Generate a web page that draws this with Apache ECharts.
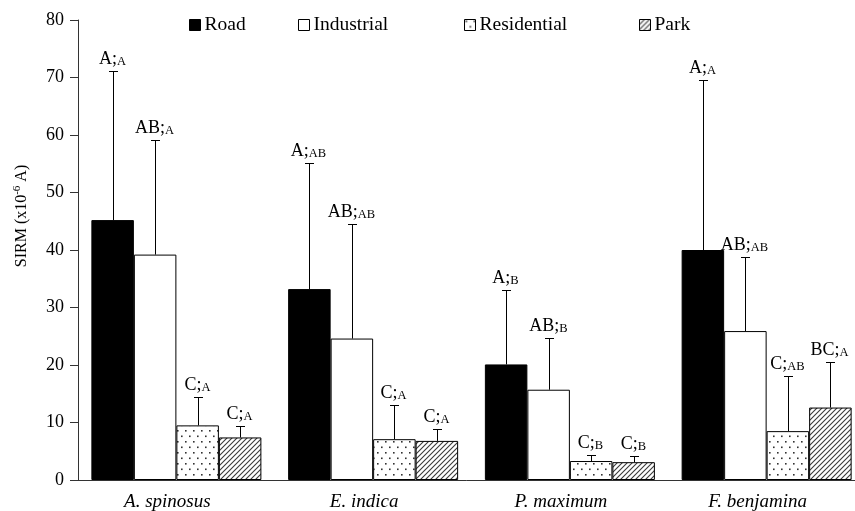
<!DOCTYPE html>
<html><head><meta charset="utf-8">
<script src="https://cdn.jsdelivr.net/npm/echarts@6/dist/echarts.min.js"></script>
<style>html,body{margin:0;padding:0;background:#fff}#c{width:855px;height:511px}</style>
</head><body><div id="c"></div>
<script>
const categories = ['A. spinosus', 'E. indica', 'P. maximum', 'F. benjamina'];
const seriesNames = ['Road', 'Industrial', 'Residential', 'Park'];
const road = [45.2, 33.2, 20.1, 40.0];
const industrial = [39.2, 24.6, 15.7, 25.9];
const residential = [9.5, 7.1, 3.3, 8.5];
const park = [7.4, 6.8, 3.1, 12.6];
const roadSD = [25.9, 21.9, 13.0, 29.6];
const industrialSD = [20.0, 19.9, 9.0, 12.8];
const residentialSD = [5.0, 5.9, 1.0, 9.6];
const parkSD = [2.0, 2.0, 1.0, 7.9];
const roadLetters = [['A', 'A'], ['A', 'AB'], ['A', 'B'], ['A', 'A']];
const industrialLetters = [['AB', 'A'], ['AB', 'AB'], ['AB', 'B'], ['AB', 'AB']];
const residentialLetters = [['C', 'A'], ['C', 'A'], ['C', 'B'], ['C', 'AB']];
const parkLetters = [['C', 'A'], ['C', 'A'], ['C', 'B'], ['BC', 'A']];
const yTicks = { min: 0, max: 80, interval: 10 };

const FONT = 'Liberation Serif';
const BAR_W = 42.5;

function dotPattern() {
  const c = document.createElement('canvas');
  c.width = 8; c.height = 11;
  const x = c.getContext('2d');
  x.fillStyle = '#fff'; x.fillRect(0, 0, 8, 11);
  x.fillStyle = '#333';
  x.fillRect(1, 1, 1.6, 1.6);
  x.fillRect(5, 6.5, 1.6, 1.6);
  return c;
}
function hatchPattern() {
  const c = document.createElement('canvas');
  c.width = 5; c.height = 5;
  const x = c.getContext('2d');
  x.fillStyle = '#fff'; x.fillRect(0, 0, 5, 5);
  x.strokeStyle = '#3a3a3a'; x.lineWidth = 1.1;
  x.beginPath();
  x.moveTo(-1, 6); x.lineTo(6, -1);
  x.moveTo(-1, 1); x.lineTo(1, -1);
  x.moveTo(4, 6); x.lineTo(6, 4);
  x.stroke();
  return c;
}

const means = [road, industrial, residential, park];
const sds = [roadSD, industrialSD, residentialSD, parkSD];
const letters = [roadLetters, industrialLetters, residentialLetters, parkLetters];
const fills = ['#000', '#fff', { image: dotPattern(), repeat: 'repeat' }, { image: hatchPattern(), repeat: 'repeat' }];

const errItems = [];
for (let s = 0; s < 4; s++) {
  for (let c = 0; c < categories.length; c++) {
    errItems.push({ value: [c, means[s][c] + sds[s][c], s, means[s][c]], big: letters[s][c][0] + ';', small: letters[s][c][1] });
  }
}

const barSeries = seriesNames.map((n, s) => ({
  name: n, type: 'bar', data: means[s], barWidth: BAR_W, barGap: '0%',
  itemStyle: { color: fills[s], borderColor: '#000', borderWidth: 1 },
  emphasis: { disabled: true }, animation: false, z: 2
}));

const errSeries = {
  type: 'custom', data: errItems, z: 5, animation: false, silent: true,
  renderItem: function (params, api) {
    const item = errItems[params.dataIndex];
    const cat = api.value(0), top = api.value(1), s = api.value(2), mean = api.value(3);
    const pTop = api.coord([cat, top]);
    const pMean = api.coord([cat, mean]);
    const x = Math.round(pTop[0] + (s - 1.5) * BAR_W) + 0.5;
    const yT = Math.round(pTop[1]) + 0.5;
    const yM = pMean[1];
    return {
      type: 'group', children: [
        { type: 'line', shape: { x1: x, y1: yM, x2: x, y2: yT }, style: { stroke: '#000', lineWidth: 1 } },
        { type: 'line', shape: { x1: x - 4.5, y1: yT, x2: x + 4.5, y2: yT }, style: { stroke: '#000', lineWidth: 1 } },
        { type: 'text', x: x - 1, y: yT - 3, style: {
            text: '{b|' + item.big + '}{s|' + item.small + '}',
            align: 'center', verticalAlign: 'bottom', textAlign: 'center', textVerticalAlign: 'bottom',
            rich: {
              b: { fontFamily: FONT, fontSize: 18, lineHeight: 18, fill: '#000', color: '#000', verticalAlign: 'bottom' },
              s: { fontFamily: FONT, fontSize: 12.5, lineHeight: 14, fill: '#000', color: '#000', verticalAlign: 'bottom' }
            }
          } }
      ]
    };
  }
};

const legendLefts = [189, 298, 464, 639];
const legends = seriesNames.map((n, i) => ({
  data: [n], left: legendLefts[i], top: 15, padding: 0, icon: 'rect',
  itemWidth: 11, itemHeight: 11, selectedMode: false,
  itemStyle: { borderColor: '#000', borderWidth: 1 },
  textStyle: { fontFamily: FONT, fontSize: 19.5, color: '#000', padding: [0, 0, 0, -1] }
}));

const chart = echarts.init(document.getElementById('c'), null, { renderer: 'canvas' });
chart.setOption({
  backgroundColor: '#fff',
  animation: false,
  legend: legends,
  grid: { left: 78, right: -10, top: 20, bottom: 31, containLabel: false, outerBoundsMode: 'none' },
  xAxis: {
    type: 'category', data: categories,
    axisLine: { lineStyle: { color: '#333', width: 1 } },
    axisTick: { show: false },
    axisLabel: { fontFamily: FONT, fontStyle: 'italic', fontSize: 19, color: '#000', margin: 12, padding: [0, 18, 0, 0] }
  },
  yAxis: {
    type: 'value', min: yTicks.min, max: yTicks.max, interval: yTicks.interval,
    axisLine: { show: true, lineStyle: { color: '#333', width: 1 } },
    axisTick: { show: true, inside: false, length: 8, lineStyle: { color: '#333' } },
    axisLabel: { fontFamily: FONT, fontSize: 18, color: '#000', margin: 14 },
    splitLine: { show: false }
  },
  graphic: [{
    type: 'text', x: 21, y: 216, rotation: Math.PI / 2, silent: true,
    style: {
      text: '{n|SIRM (x10}{s|-6}{n| A)}',
      align: 'center', verticalAlign: 'middle', textAlign: 'center', textVerticalAlign: 'middle',
      rich: {
        n: { fontFamily: FONT, fontSize: 16, lineHeight: 18, fill: '#000', color: '#000', verticalAlign: 'bottom' },
        s: { fontFamily: FONT, fontSize: 11, lineHeight: 18, fill: '#000', color: '#000', verticalAlign: 'top', padding: [0, 0, 8, 0] }
      }
    }
  }],
  series: barSeries.concat([errSeries])
});
</script></body></html>
